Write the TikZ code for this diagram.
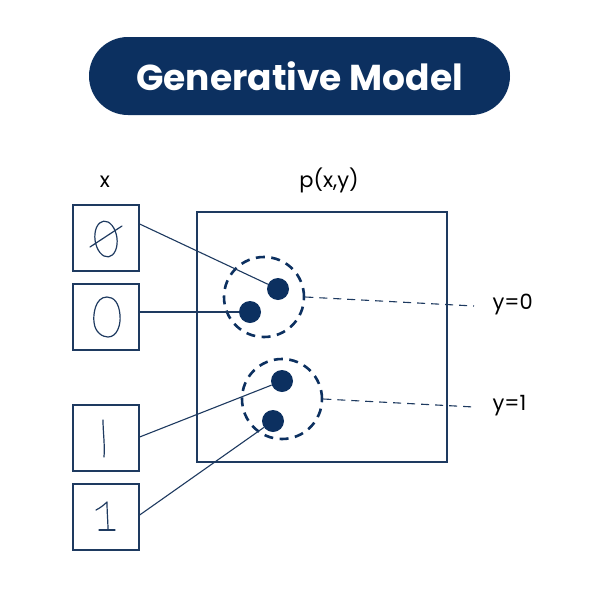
\documentclass[tikz,border=0pt]{standalone}
\usepackage{fontspec}
\setmainfont{Poppins}
\definecolor{navy}{HTML}{0C3060}
\definecolor{ink}{HTML}{1E3A60}
\begin{document}
\begin{tikzpicture}[x=1pt,y=-1pt,
  digitbox/.style={draw=ink,line width=1.3pt,minimum width=66pt,minimum height=66pt,inner sep=0pt},
  dot/.style={circle,fill=navy,minimum size=22pt,inner sep=0pt},
  grp/.style={circle,draw=navy,dash pattern=on 9pt off 6.5pt,line width=2.6pt,minimum size=80pt,inner sep=0pt},
  link/.style={draw=ink,line width=1.1pt},
  dlink/.style={draw=ink,line width=1.1pt,dash pattern=on 8pt off 6pt},
  lbl/.style={font=\fontsize{21}{24}\selectfont,text=black},
  pen/.style={draw=ink,line width=1.2pt,line cap=round,line join=round}]
\useasboundingbox (0,0) rectangle (600,600);
\fill[white] (0,0) rectangle (600,600);
% title
\fill[navy,rounded corners=39pt] (89,37) rectangle (510,115);
\node[text=white,font=\fontsize{36}{40}\selectfont\bfseries] (title) at (299.5,76) {Generative Model};
% labels
\node[lbl] (xl) at (105,182) {x};
\node[lbl] (pl) at (329,180) {p(x,y)};
% boxes
\node[digitbox] (b1) at (106,238) {};
\node[digitbox] (b2) at (106,317) {};
\node[digitbox] (b3) at (106,438) {};
\node[digitbox] (b4) at (106,517) {};
% big square
\node[draw=ink,line width=1.3pt,minimum width=250pt,minimum height=250pt,inner sep=0pt] (sq) at (322,337) {};
% groups
\node[grp] (g0) at (264,297) {};
\node[grp] (g1) at (282,399) {};
\node[dot] (d1) at (278,289) {};
\node[dot] (d2) at (250,312) {};
\node[dot] (d3) at (282,381) {};
\node[dot] (d4) at (273,421) {};
% label nodes
\node[lbl,anchor=west] (y0) at (489,304) {y=0};
\node[lbl,anchor=west] (y1) at (489,406) {y=1};
\coordinate (e0) at (474,306);
\coordinate (e1) at (474,407);
% connectors
\draw[link] (b1.east |- 0,224) -- (d1);
\draw[link] (b2.east |- 0,312) -- (d2);
\draw[link] (b3.east |- 0,437) -- (d3);
\draw[link] (b4.east |- 0,515) -- (d4);
\draw[dlink] (g0.east) -- (e0);
\draw[dlink] (g1.east) -- (e1);
% handwritten digits
\draw[pen,rotate around={8:(106,239)}] (106,239) ellipse [x radius=11, y radius=18];
\draw[pen] (90,247) -- (122,226);
\draw[pen] (107,297) .. controls (95,297) and (93,315) .. (94,322) .. controls (95,333) and (103,337) .. (108,337) .. controls (117,337) and (121,325) .. (120,315) .. controls (119,303) and (114,297) .. (107,297) -- cycle;
\draw[pen] (103,420) .. controls (103,432) and (105,445) .. (104,457);
\draw[pen] (96,510) .. controls (100,508) and (104,505) .. (107,502) .. controls (107,512) and (108,522) .. (108,530);
\draw[pen] (99,530) -- (115,530);
\end{tikzpicture}
\end{document}
